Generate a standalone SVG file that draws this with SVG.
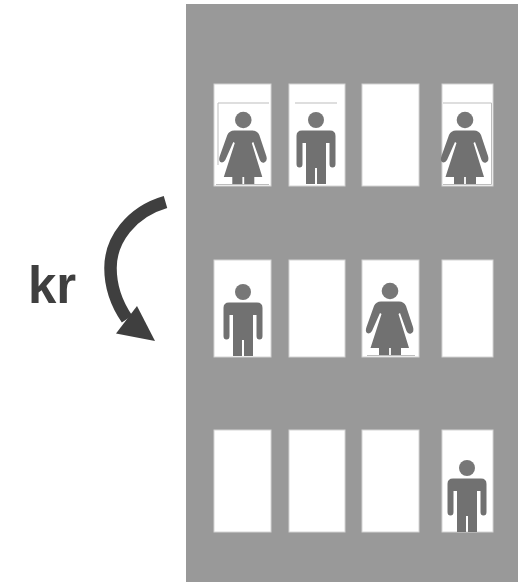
<svg xmlns="http://www.w3.org/2000/svg" width="518" height="582" viewBox="0 0 518 582">
<style>
.cell{fill:#fff;stroke:#d4d4d4;stroke-width:1}
.fig{fill:#717171}
.head{fill:#777}
.thin{stroke:#bdbdbd;stroke-width:1;fill:none}
.soft{filter:url(#soft)}
</style>
<defs>
<filter id="soft" x="-10%" y="-10%" width="120%" height="120%"><feGaussianBlur stdDeviation="0.5"/></filter>
<g id="woman" class="soft">
<circle class="head" cx="0" cy="0" r="8.3"/>
<path class="fig" d="M-9,10.500 H9 Q14,10.500 16,15 L23,36 Q24.500,41 21,42.500 Q18,43.500 16.500,40 L10,22 L8.500,23 L19,57 H11 V64 H0.900 V57 H-0.900 V64 H-11 V57 H-19.500 L-8.500,23 L-10,22 L-18,40 Q-20,43.500 -23,42 Q-25,40.500 -23.500,36 L-16,15 Q-14,10.500 -9,10.500 Z"/>
</g>
<g id="man" class="soft">
<circle class="head" cx="0" cy="0" r="8"/>
<path class="fig" d="M-14,10.500 H14 Q19.500,10.500 19.500,16 V44 Q19.500,47.500 16.500,47.500 Q13.500,47.500 13.500,44 V23 H10 V64 H1 V48 H-1 V64 H-10 V23 H-13.500 V44 Q-13.500,47.500 -16.500,47.500 Q-19.500,47.500 -19.500,44 V16 Q-19.500,10.500 -14,10.500 Z"/>
</g>
</defs>
<rect width="518" height="582" fill="#fff"/>
<rect id="building" x="186" y="4" width="332" height="578" fill="#999"/>
<g id="connectors">
<path d="M165.500,202 C131,212 110.500,240 110.500,268 C110.500,285 116,303 127,319" fill="none" stroke="#3f3f3f" stroke-width="12.500"/>
<path d="M155,341 L116,333.500 L137,306 Z" fill="#3f3f3f"/>
</g>
<text id="label-kr" x="28" y="303" font-family="'Liberation Sans',Arial,sans-serif" font-weight="700" font-size="51" fill="#3f3f3f">kr</text>
<g id="cell-r1c1"><rect class="cell" x="214" y="84" width="57" height="102"/><path class="thin" d="M218,103 H269 M218,103 V165 M216,184.500 H269"/><use href="#woman" x="243.300" y="120"/></g>
<g id="cell-r1c2"><rect class="cell" x="289" y="84" width="56" height="102"/><path class="thin" d="M295,103 H337"/><use href="#man" x="316" y="120"/></g>
<g id="cell-r1c3"><rect class="cell" x="362" y="84" width="57" height="102"/></g>
<g id="cell-r1c4"><rect class="cell" x="442" y="84" width="51" height="102"/><path class="thin" d="M443,103 H491.500 M491.500,103 V184.500 M443,184.500 H491.500"/><use href="#woman" x="465" y="120"/></g>
<g id="cell-r2c1"><rect class="cell" x="214" y="260" width="57" height="97"/><use href="#man" x="243" y="292"/></g>
<g id="cell-r2c2"><rect class="cell" x="289" y="260" width="56" height="97"/></g>
<g id="cell-r2c3"><rect class="cell" x="362" y="260" width="57" height="97"/><path class="thin" d="M367,355.500 H415"/><use href="#woman" x="390" y="291"/></g>
<g id="cell-r2c4"><rect class="cell" x="442" y="260" width="51" height="97"/></g>
<g id="cell-r3c1"><rect class="cell" x="214" y="430" width="57" height="102"/></g>
<g id="cell-r3c2"><rect class="cell" x="289" y="430" width="56" height="102"/></g>
<g id="cell-r3c3"><rect class="cell" x="362" y="430" width="57" height="102"/></g>
<g id="cell-r3c4"><rect class="cell" x="442" y="430" width="51" height="102"/><use href="#man" x="467" y="468"/></g>
</svg>
